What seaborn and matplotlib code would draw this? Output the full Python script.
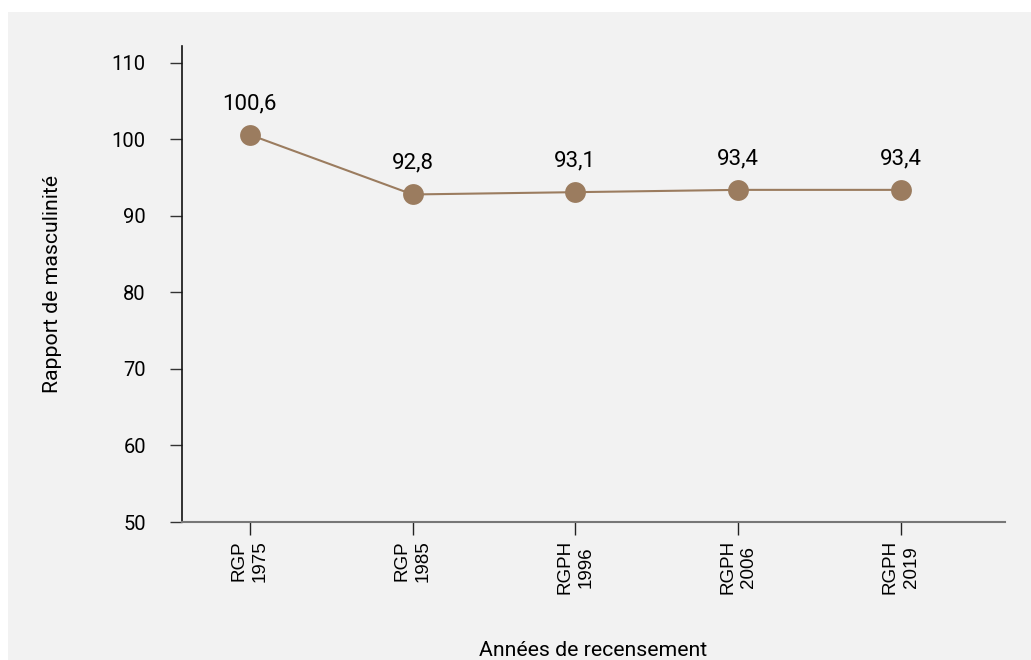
import pandas as pd
import matplotlib.pyplot as plt
import seaborn as sns
from matplotlib.patches import Rectangle

recensements = ['RGP\n1975', 'RGP\n1985', 'RGPH\n1996', 'RGPH\n2006', 'RGPH\n2019']
rapport = [100.6, 92.8, 93.1, 93.4, 93.4]
etiquettes = ['100,6', '92,8', '93,1', '93,4', '93,4']

df = pd.DataFrame({'pos': range(len(recensements)), 'rapport': rapport})

sns.set_style('white')
plt.rcParams['font.family'] = ['Roboto', 'DejaVu Sans']
plt.rcParams['text.color'] = '#000000'
plt.rcParams['axes.labelcolor'] = '#000000'
plt.rcParams['xtick.labelcolor'] = '#000000'
plt.rcParams['ytick.labelcolor'] = '#000000'

fig = plt.figure(figsize=(10.31, 6.6), dpi=100)
fig.patch.set_facecolor('white')
# fond gris clair
fig.patches.append(Rectangle((8 / 1031, 0), 1 - 8 / 1031, 1 - 12 / 660,
                             transform=fig.transFigure, facecolor='#f2f2f2',
                             edgecolor='none', zorder=-10))

ax = fig.add_axes([182 / 1031, 1 - 522 / 660, (1005 - 182) / 1031, (522 - 46) / 660])
ax.set_facecolor('none')

couleur = '#9b7c5f'
sns.lineplot(data=df, x='pos', y='rapport', ax=ax, color=couleur, linewidth=1.5,
             marker='o', markersize=15, markeredgewidth=0, markerfacecolor=couleur)

for x, y, t in zip(df['pos'], df['rapport'], etiquettes):
    ax.annotate(t, (x, y), xytext=(0, 15), textcoords='offset points',
                ha='center', va='bottom', fontsize=16, color='black')

ax.set_xlim(-0.417, 4.64)
ax.set_ylim(50, 112.2)
ax.set_yticks(range(50, 111, 10))
ax.set_xticks(range(len(recensements)))
ax.set_xticklabels(recensements, rotation=90, fontsize=13.5, linespacing=1.3,
                   family=['Liberation Sans', 'DejaVu Sans'])
ax.tick_params(axis='y', labelsize=14.5, length=9, width=1, pad=17, left=True,
               color='#333333')
ax.tick_params(axis='x', length=9, width=1, pad=4, bottom=True, color='#222222')

for s in ['top', 'right']:
    ax.spines[s].set_visible(False)
ax.spines['left'].set_color('#111111')
ax.spines['left'].set_linewidth(1.2)
ax.spines['bottom'].set_color('#777777')
ax.spines['bottom'].set_linewidth(1.5)

ax.set_xlabel('Années de recensement', fontsize=15.3, labelpad=34)
ax.set_ylabel('Rapport de masculinité', fontsize=15.3, labelpad=36)

fig.savefig('out.png', dpi=100)
